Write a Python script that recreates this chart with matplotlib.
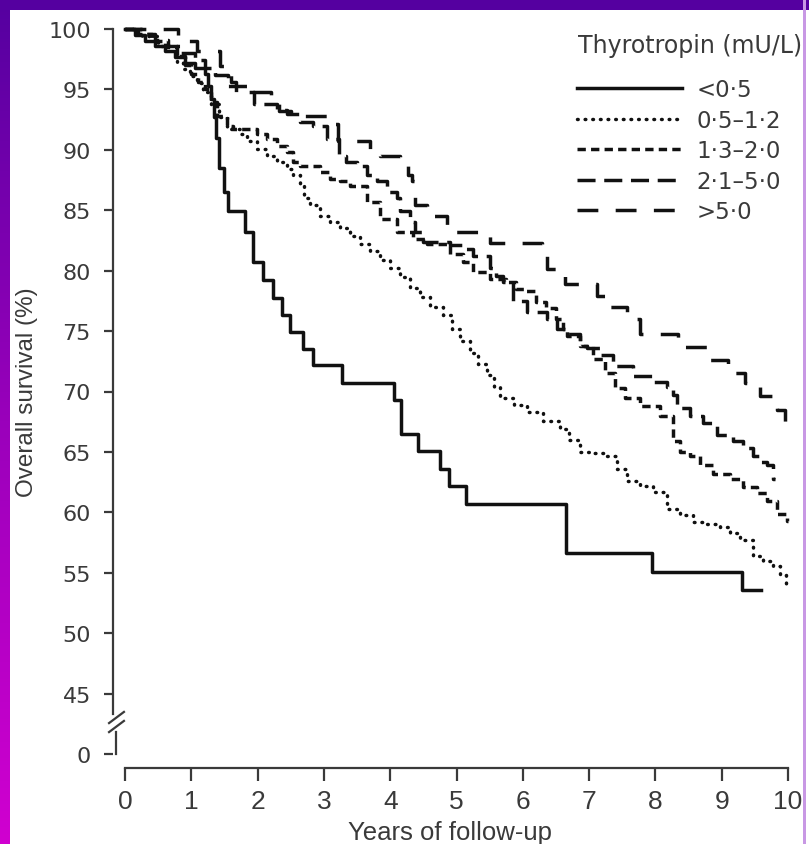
import numpy as np
import matplotlib
matplotlib.use('Agg')
import matplotlib.pyplot as plt
from matplotlib.path import Path
from matplotlib.patches import Rectangle
from matplotlib.transforms import offset_copy
from matplotlib.colors import LinearSegmentedColormap

# Kaplan-Meier curves (years, survival %), step 'post'
t_lt05 = [0, 0.15, 0.3, 0.45, 0.6, 0.75, 0.9, 1.05, 1.2, 1.25, 1.3, 1.34, 1.37, 1.42, 1.5,
          1.55, 1.81, 1.935, 2.086, 2.237, 2.363, 2.489, 2.69, 2.84, 3.27, 4.05, 4.17, 4.42,
          4.75, 4.88, 5.15, 6.65, 7.95, 9.3, 9.6]
v_lt05 = [100, 99.5, 99.0, 98.6, 98.2, 97.7, 97.2, 96.8, 96.3, 95.3, 94.2, 92.7, 91.0, 88.5, 86.5,
          84.9, 83.2, 80.7, 79.2, 77.7, 76.3, 74.9, 73.5, 72.2, 70.7, 69.3, 66.5, 65.1,
          63.6, 62.2, 60.7, 56.6, 55.1, 53.6, 53.6]

t_05_12 = [0, 0.25, 0.5, 0.78, 0.87, 0.98, 1.09, 1.18, 1.3, 1.42, 1.54, 1.73, 1.84, 1.99, 2.14,
           2.29, 2.44, 2.53, 2.64, 2.7, 2.79, 2.94, 3.09, 3.24, 3.39, 3.55, 3.7, 3.85, 4.0, 4.15,
           4.3, 4.45, 4.6, 4.8, 4.93, 5.05, 5.2, 5.33, 5.46, 5.56, 5.66, 5.86, 6.06, 6.3, 6.56,
           6.7, 6.86, 7.05, 7.27, 7.42, 7.57, 7.77, 7.96, 8.17, 8.37, 8.57, 8.77, 8.97, 9.12,
           9.28, 9.47, 9.62, 9.77, 9.88, 9.97, 10.0]
v_05_12 = [100, 99.4, 98.6, 97.3, 96.7, 96.1, 95.5, 94.8, 93.8, 92.7, 91.7, 91.3, 90.7, 90.1, 89.5,
           89.0, 88.4, 87.9, 87.0, 86.0, 85.4, 84.5, 84.0, 83.5, 82.9, 82.2, 81.6, 80.9, 80.2, 79.5,
           78.6, 77.8, 77.0, 76.3, 75.2, 74.2, 73.2, 72.3, 71.4, 70.4, 69.5, 68.9, 68.3, 67.6, 66.9,
           66.0, 65.0, 64.9, 64.7, 63.6, 62.6, 62.2, 61.7, 60.3, 59.8, 59.2, 59.0, 58.8, 58.3,
           57.7, 56.4, 56.0, 55.6, 54.8, 53.7, 53.7]

t_13_20 = [0, 0.2, 0.4, 0.6, 0.78, 0.9, 1.0, 1.1, 1.2, 1.3, 1.39, 1.54, 1.63, 1.99, 2.14, 2.29,
           2.44, 2.53, 2.64, 2.94, 3.09, 3.24, 3.39, 3.65, 3.85, 4.1, 4.34, 4.55, 4.9, 5.1, 5.25,
           5.5, 5.75, 5.9, 6.05, 6.2, 6.35, 6.5, 6.6, 6.67, 6.86, 7.06, 7.24, 7.39, 7.54, 7.77,
           8.07, 8.27, 8.37, 8.52, 8.67, 8.87, 9.13, 9.32, 9.53, 9.68, 9.83, 9.98, 10.0]
v_13_20 = [100, 99.6, 99.0, 98.5, 97.8, 97.0, 96.3, 95.6, 95.0, 94.0, 92.8, 92.0, 91.7, 91.3, 90.9, 90.3,
           89.8, 89.0, 88.7, 88.2, 87.6, 87.4, 87.0, 85.7, 84.3, 83.2, 82.6, 82.2, 81.4, 80.7, 79.9,
           79.3, 79.1, 78.5, 78.3, 77.4, 76.9, 76.0, 75.2, 74.6, 73.8, 72.7, 71.5, 70.3, 69.5, 68.8,
           68.0, 65.9, 65.0, 64.7, 63.9, 63.2, 62.8, 62.1, 61.6, 60.9, 59.9, 59.3, 59.3]

t_21_50 = [0, 0.25, 0.45, 0.65, 0.85, 1.05, 1.2, 1.35, 1.55, 1.84, 1.95, 2.3, 2.45, 2.64, 2.84,
           3.04, 3.23, 3.33, 3.5, 3.65, 3.8, 3.95, 4.1, 4.15, 4.3, 4.37, 4.5, 4.9, 5.1, 5.25, 5.5,
           5.6, 5.7, 5.85, 6.06, 6.36, 6.52, 6.67, 6.86, 6.97, 7.16, 7.36, 7.66, 7.96, 8.17, 8.27,
           8.33, 8.52, 8.72, 8.93, 9.17, 9.32, 9.47, 9.58, 9.68, 9.77, 9.8]
v_21_50 = [100, 99.6, 99.1, 98.6, 98.0, 97.4, 96.8, 96.2, 95.3, 94.8, 93.8, 93.3, 93.0, 92.3, 92.0,
           90.9, 89.5, 89.0, 88.7, 87.9, 87.4, 86.5, 86.0, 84.9, 84.0, 83.2, 82.4, 82.1, 81.8, 81.2, 80.2,
           79.6, 79.1, 77.5, 76.6, 76.0, 75.2, 74.8, 73.8, 73.6, 73.0, 72.1, 71.3, 70.8, 70.4, 69.7,
           68.6, 68.0, 67.4, 66.4, 65.9, 65.3, 64.7, 64.2, 63.9, 62.8, 62.8]

t_gt50 = [0, 0.8, 1.09, 1.43, 1.5, 1.6, 1.68, 2.2, 2.33, 2.5, 2.56, 3.14, 3.22, 3.7, 3.85,
          4.15, 4.27, 4.33, 4.37, 4.55, 4.86, 5.5, 6.29, 6.36, 6.64, 7.12, 7.24, 7.57, 7.77,
          8.34, 8.82, 9.1, 9.35, 9.58, 9.83, 9.95, 9.97]
v_gt50 = [100, 99.0, 98.2, 96.9, 96.2, 95.6, 94.8, 94.0, 93.2, 93.0, 92.8, 92.1, 90.7, 89.8, 89.5,
          88.7, 87.9, 87.4, 85.4, 84.5, 83.2, 82.3, 81.2, 80.1, 78.9, 77.9, 77.0, 76.0, 74.8,
          73.7, 72.6, 71.5, 70.7, 69.6, 68.5, 67.1, 67.1]

group_labels = ['<0·5', '0·5–1·2', '1·3–2·0', '2·1–5·0', '>5·0']
legend_title = 'Thyrotropin (mU/L)'

# y axis is broken: 0 is drawn one step below 45
y_ticks = [40, 45, 50, 55, 60, 65, 70, 75, 80, 85, 90, 95, 100]
y_ticklabels = ['0', '45', '50', '55', '60', '65', '70', '75', '80', '85', '90', '95', '100']
x_ticks = list(range(0, 11))

W, H = 809, 845
fig = plt.figure(figsize=(W / 100, H / 100), dpi=100)
fig.patch.set_facecolor('white')

# purple slide frame
bg = fig.add_axes([0, 0, 1, 1], zorder=-10)
bg.axis('off')
frame_cmap = LinearSegmentedColormap.from_list('frame', ['#5500a0', '#9a00bb', '#d000d0'])
bg.imshow(np.linspace(0, 1, 256).reshape(-1, 1), cmap=frame_cmap, extent=(0, 10, H, 0), aspect='auto')
bg.add_patch(Rectangle((0, 0), W, 11, color='#5500a0', lw=0))
bg.add_patch(Rectangle((803, 0), 3, H, color='#c898e4', lw=0))
bg.set_xlim(0, W)
bg.set_ylim(H, 0)

ax = fig.add_axes([125 / W, 1 - 755 / H, 663 / W, 725 / H])
ink = '#111111'
grey = '#3a3a3a'
lw = 2.5

styles = [
    dict(linestyle='-'),
    dict(linestyle=(0, (0.2, 2.0)), dash_capstyle='round'),
    dict(linestyle=(0, (2.4, 1.5))),
    dict(linestyle=(0, (5.2, 2.5))),
    dict(linestyle=(0, (6.0, 5.0))),
]
curves = [(t_lt05, v_lt05), (t_05_12, v_05_12), (t_13_20, v_13_20), (t_21_50, v_21_50), (t_gt50, v_gt50)]
handles = []
for (t, v), st, lab in zip(curves, styles, group_labels):
    h, = ax.step(t, v, where='post', color=ink, lw=lw, label=lab, clip_on=False, **st)
    handles.append(h)

ax.set_xlim(0, 10)
ax.set_ylim(40, 100)
ax.set_xticks(x_ticks)
ax.set_yticks(y_ticks)
ax.set_yticklabels(y_ticklabels)

for s in ['top', 'right']:
    ax.spines[s].set_visible(False)
ax.spines['left'].set_position(('outward', 9))
ax.spines['left'].set_bounds(43.3, 100)
ax.spines['bottom'].set_position(('outward', 10))
ax.spines['bottom'].set_bounds(0, 10)
for s in ['left', 'bottom']:
    ax.spines[s].set_color(grey)
    ax.spines[s].set_linewidth(1.6)

# lower piece of the broken y axis and the break marks
spine_tr = offset_copy(ax.get_yaxis_transform(), fig=fig, x=-9, y=0, units='dots')
ax.plot([0, 0], [40, 41.8], color=grey, lw=1.6, transform=spine_tr, clip_on=False)
slash = Path([(-1, -0.75), (1, 0.75)], [Path.MOVETO, Path.LINETO])
ax.plot([0, 0], [42.3, 43.05], linestyle='none', marker=slash, markersize=12,
        markeredgewidth=1.6, color=grey, transform=spine_tr, clip_on=False)

ax.tick_params(axis='y', direction='out', length=6.5, width=1.6, pad=9, labelsize=16,
               colors=grey)
ax.tick_params(axis='x', direction='out', length=9, width=1.6, pad=6, labelsize=19,
               colors=grey)
for lbl in ax.get_yticklabels():
    lbl.set_fontfamily('DejaVu Sans')
for lbl in ax.get_xticklabels():
    lbl.set_fontfamily('Liberation Sans')

ax.set_xlabel('Years of follow-up', fontsize=18.5, family='Liberation Sans', color=grey)
ax.set_ylabel('Overall survival (%)', fontsize=17.5, family='Liberation Sans', color=grey)
ax.xaxis.set_label_coords(0.49, -0.107)
ax.xaxis.label.set_va('center')
ax.yaxis.set_label_coords(-0.148, 0.5)
ax.yaxis.label.set_va('center')

fig.text(578 / W, 1 - 46 / H, legend_title, fontsize=17, family='DejaVu Sans',
         color=grey, ha='left', va='center')
leg = ax.legend(handles=handles, labels=group_labels,
                loc='upper left', bbox_to_anchor=(577 / W, 1 - 79 / H),
                bbox_transform=fig.transFigure, frameon=False, borderpad=0,
                borderaxespad=0, handlelength=4.6, handletextpad=0.6,
                labelspacing=0.33, prop={'family': 'DejaVu Sans', 'size': 16.5})
for txt in leg.get_texts():
    txt.set_color(grey)

fig.savefig('out.png', dpi=100)
